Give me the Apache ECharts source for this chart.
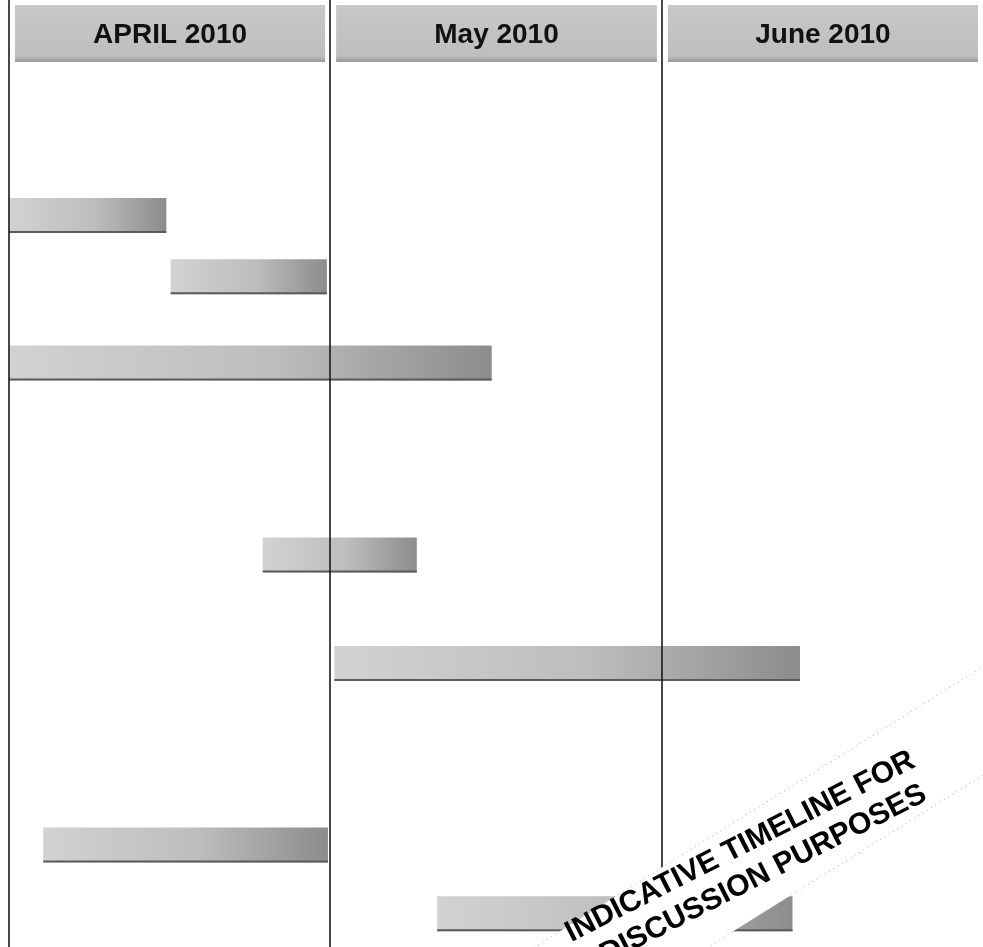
<!DOCTYPE html>
<html>
<head>
<meta charset="utf-8">
<script src="https://cdn.jsdelivr.net/npm/echarts@6/dist/echarts.min.js"></script>
<style>
  html, body { margin: 0; padding: 0; background: #ffffff; }
  #chart { width: 983px; height: 947px; }
</style>
</head>
<body>
<div id="chart"></div>
<script>
// ---- data (x in days from 1 April 2010, y in timeline rows) ----
const months = ['APRIL 2010', 'May 2010', 'June 2010'];
const monthStart = [0, 30, 61];
const monthEnd = [30, 61, 91];

const taskStart = [0, 15.1, 0, 23.7, 30.4, 3.2, 40.0];
const taskEnd   = [14.7, 29.7, 45.1, 38.1, 73.9, 29.8, 73.2];
const taskRow   = [6.83, 8.77, 11.50, 17.58, 21.02, 26.77, 28.95];

const watermarkLines = ['INDICATIVE TIMELINE FOR', 'DISCUSSION PURPOSES'];

// ---- chart ----
const chart = echarts.init(document.getElementById('chart'), null, { renderer: 'canvas' });

const headerData = months.map((m, i) => ({ name: m, value: [monthStart[i], monthEnd[i]] }));
const taskData = taskStart.map((s, i) => ({ value: [s, taskEnd[i], taskRow[i]] }));

function renderHeader(params, api) {
  const p0 = api.coord([api.value(0), 0]);
  const p1 = api.coord([api.value(1), 0]);
  const x0 = p0[0] + 6;
  const x1 = p1[0] - 5;
  const y0 = p0[1] + 5;
  const h = 57;
  return {
    type: 'group',
    children: [
      {
        type: 'rect',
        shape: { x: x0, y: y0, width: x1 - x0, height: h },
        style: {
          fill: new echarts.graphic.LinearGradient(0, 0, 0, 1, [
            { offset: 0, color: '#c8c8c8' },
            { offset: 0.9, color: '#bebebe' },
            { offset: 1, color: '#999999' }
          ])
        }
      },
      {
        type: 'text',
        style: {
          x: (x0 + x1) / 2,
          y: y0 + 30,
          text: months[params.dataIndex],
          align: 'center',
          verticalAlign: 'middle',
          fill: '#111',
          font: 'bold 28px "Liberation Sans", Arial, sans-serif'
        }
      }
    ]
  };
}

function renderTask(params, api) {
  const a = api.coord([api.value(0), api.value(2)]);
  const b = api.coord([api.value(1), api.value(2)]);
  const h = 35;
  const y = a[1] - h / 2;
  return {
    type: 'group',
    children: [
      {
        type: 'rect',
        shape: { x: a[0], y: y, width: b[0] - a[0], height: h },
        style: {
          fill: new echarts.graphic.LinearGradient(0, 0, 1, 0, [
            { offset: 0, color: '#d2d2d2' },
            { offset: 0.55, color: '#bdbdbd' },
            { offset: 1, color: '#8c8c8c' }
          ])
        }
      },
      {
        type: 'rect',
        shape: { x: a[0], y: y + h - 2, width: b[0] - a[0], height: 2 },
        style: { fill: '#5a5a5a' }
      }
    ]
  };
}

const textRot = 27 * Math.PI / 180;
const bandRot = 32 * Math.PI / 180;

chart.setOption({
  animation: false,
  backgroundColor: '#ffffff',
  grid: { left: 9, right: 0, top: 0, bottom: 0 },
  xAxis: { type: 'value', min: 0, max: 91, show: false },
  yAxis: { type: 'value', min: 0, max: 30, inverse: true, show: false },
  series: [
    {
      type: 'line',
      data: [],
      z: 1,
      silent: true,
      markLine: {
        symbol: 'none',
        silent: true,
        label: { show: false },
        lineStyle: { color: '#1a1a1a', width: 1.6, type: 'solid' },
        data: monthStart.map(v => ({ xAxis: v }))
      }
    },
    {
      type: 'custom',
      name: 'months',
      z: 3,
      renderItem: renderHeader,
      encode: { x: [0, 1] },
      data: headerData
    },
    {
      type: 'custom',
      name: 'tasks',
      z: 4,
      renderItem: renderTask,
      encode: { x: [0, 1], y: 2 },
      data: taskData
    }
  ],
  graphic: [
    {
      type: 'rect',
      x: 661,
      y: 868,
      rotation: bandRot,
      z: 100,
      zlevel: 1,
      shape: { x: -320, y: 0, width: 700, height: 92 },
      style: { fill: '#ffffff', stroke: '#b5b5b5', lineWidth: 1, lineDash: [1, 4] }
    },
    {
      type: 'group',
      x: 748,
      y: 862,
      rotation: textRot,
      z: 101,
      zlevel: 1,
      children: [
        {
          type: 'text',
          z: 101,
          zlevel: 1,
          style: {
            x: 0, y: -17, text: watermarkLines[0],
            align: 'center', verticalAlign: 'middle',
            fill: '#000', font: 'bold 30px "Liberation Sans", Arial, sans-serif'
          }
        },
        {
          type: 'text',
          z: 101,
          zlevel: 1,
          style: {
            x: 8, y: 18, text: watermarkLines[1],
            align: 'center', verticalAlign: 'middle',
            fill: '#000', font: 'bold 30px "Liberation Sans", Arial, sans-serif'
          }
        }
      ]
    }
  ]
});
</script>
</body>
</html>
